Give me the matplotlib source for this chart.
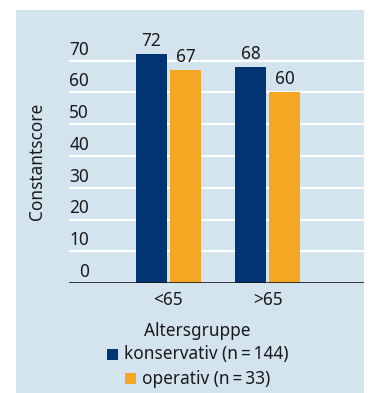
import matplotlib.pyplot as plt
import matplotlib.transforms as mtransforms
from matplotlib.patches import Rectangle

plt.rcParams['font.family'] = ['Noto Sans', 'DejaVu Sans']

groups = ['<65', '>65']
konservativ = [72, 68]
operativ = [67, 60]
series_labels = ['konservativ (n\u2009=\u2009144)', 'operativ (n\u2009=\u200933)']
yticks = [0, 10, 20, 30, 40, 50, 60, 70]

navy = '#003473'
orange = '#f5a623'
panel = '#d3e4ef'
fs = 12.4

fig = plt.figure(figsize=(3.79, 3.93), dpi=100)
fig.patch.set_facecolor('white')
fig.patches.append(Rectangle((16 / 379, 0), 348 / 379, 383 / 393,
                             transform=fig.transFigure, facecolor=panel,
                             edgecolor='none', zorder=-10))

ax = fig.add_axes([69 / 379, 110 / 393, 295 / 379, 254 / 393])
ax.set_facecolor('none')

x = range(len(groups))
w = 0.313
off = 0.345
b1 = ax.bar([i - off / 2 for i in x], konservativ, w, color=navy, zorder=3)
b2 = ax.bar([i + off / 2 for i in x], operativ, w, color=orange, zorder=3)
for bars, vals in ((b1, konservativ), (b2, operativ)):
    for r, v in zip(bars, vals):
        ax.annotate(str(v), (r.get_x() + r.get_width() / 2, v),
                    xytext=(0, 3), textcoords='offset points',
                    ha='center', va='bottom', fontsize=fs, color='#1a1a1a')

ax.set_xlim(-1.0, 1.97)
ax.set_ylim(0, 80)

# white gridlines with labels sitting on top of them
for t in yticks[1:]:
    ax.axhline(t, color='white', lw=1.5, zorder=1)
ax.axhline(0, color='#1a1a1a', lw=1.2, zorder=4)
trans = mtransforms.blended_transform_factory(ax.transAxes, ax.transData)
trans = mtransforms.offset_copy(trans, fig=fig, y=1.5, units='points')
for t in yticks:
    ax.text(0.068, t, str(t), transform=trans, ha='right', va='bottom',
            fontsize=fs, color='#1a1a1a')

ax.set_yticks([])
ax.set_xticks(list(x))
ax.set_xticklabels(groups, fontsize=fs, color='#1a1a1a')
ax.tick_params(axis='x', length=0, pad=6)
for s in ax.spines.values():
    s.set_visible(False)

ax.set_ylabel('Constantscore', fontsize=fs, color='#1a1a1a')
ax.yaxis.set_label_coords(-0.078, 0.48)
ax.set_xlabel('Altersgruppe', fontsize=fs, color='#1a1a1a')
ax.xaxis.set_label_coords(0.434, -0.152)

# legend, centred lines
legend_pos = [(107, 349), (125, 373)]
for (lx, ly), col, lab in zip(legend_pos, [navy, orange], series_labels):
    fig.patches.append(Rectangle((lx / 379, 1 - (ly + 11) / 393), 11 / 379, 11 / 393,
                                 transform=fig.transFigure, facecolor=col,
                                 edgecolor='none'))
    fig.text((lx + 17) / 379, 1 - (ly + 5.5) / 393, lab, ha='left', va='center',
             fontsize=fs, color='#1a1a1a')

fig.savefig('out.png', dpi=100)
